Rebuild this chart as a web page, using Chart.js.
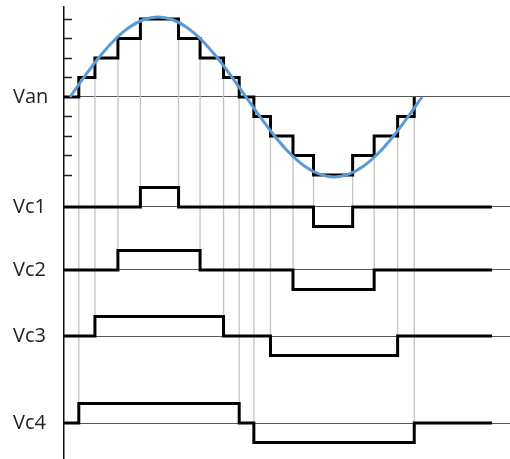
<!DOCTYPE html>
<html>
<head>
<meta charset="utf-8">
<script src="https://cdn.jsdelivr.net/npm/chart.js@4"></script>
<style>
  html, body { margin: 0; padding: 0; background: #fff; }
  canvas { display: block; }
</style>
</head>
<body>
<canvas id="c" width="510" height="459"></canvas>
<script>
// Row labels on the vertical axis
const rowLabels = ['Van', 'Vc1', 'Vc2', 'Vc3', 'Vc4'];

// Staircase level ticks on the Van row
const vanTickLevels = [4, 3, 2, 1, -1, -2, -3, -4];

// Cell switching angles (deg): rise to +1, back to 0, drop to -1, back to 0
const vc1Edges = [72, 111, 249, 289];
const vc2Edges = [49, 133, 228, 311];
const vc3Edges = [25.5, 157, 205, 335];
const vc4Edges = [9, 173, 188, 352];

// Reference sine (deg, level units)
const sineAngles = [0, 15, 30, 45, 60, 75, 90, 105, 120, 135, 150, 165, 180,
                    195, 210, 225, 240, 255, 270, 285, 300, 315, 330, 345, 360];
const sineValues = [0, 1.06, 2.05, 2.9, 3.55, 3.96, 4.1, 3.96, 3.55, 2.9, 2.05, 1.06, 0,
                    -1.06, -2.05, -2.9, -3.55, -3.96, -4.1, -3.96, -3.55, -2.9, -2.05, -1.06, 0];

// ---- layout ----
const X_MIN = -6.13, X_MAX = 449.9, TRACE_END = 431.5;
const Y_MAX = 4.615, Y_MIN = -18.564;
const rowBaselines = [0, -5.64, -8.87, -12.26, -16.72];

const cellEdges = [vc1Edges, vc2Edges, vc3Edges, vc4Edges];

// level of one cell at angle a
function cellLevel(edges, a) {
  if (a >= edges[0] && a < edges[1]) return 1;
  if (a >= edges[2] && a < edges[3]) return -1;
  return 0;
}

// stepped trace of one cell, shifted to its row
function cellTrace(edges, base) {
  const pts = [{ x: X_MIN, y: base }];
  const lv = [1, 0, -1, 0];
  edges.forEach((e, i) => {
    pts.push({ x: e, y: base + (i === 0 ? 0 : lv[i - 1]) });
    pts.push({ x: e, y: base + lv[i] });
  });
  pts.push({ x: TRACE_END, y: base });
  return pts;
}

// output staircase = sum of the cells
const allEdges = cellEdges.flat().sort((a, b) => a - b);
function stairLevel(a) {
  return cellEdges.reduce((s, e) => s + cellLevel(e, a), 0);
}
const stairPts = [{ x: X_MIN, y: 0 }];
allEdges.forEach(a => {
  stairPts.push({ x: a, y: stairLevel(a - 0.01) });
  stairPts.push({ x: a, y: stairLevel(a) });
});

// thin guide lines from each staircase step down to the cell that switches
const guidePts = [];
cellEdges.forEach((edges, k) => {
  const base = rowBaselines[k + 1];
  edges.forEach(a => {
    const before = stairLevel(a - 0.01), after = stairLevel(a);
    const top = Math.max(before, after);
    const bottom = Math.min(base + cellLevel(edges, a - 0.01), base + cellLevel(edges, a));
    guidePts.push({ x: a, y: top }, { x: a, y: bottom }, { x: a, y: null });
  });
});

const sinePts = sineAngles.map((a, i) => ({ x: a, y: sineValues[i] }));

const stepStyle = {
  borderColor: '#000', borderWidth: 3, pointRadius: 0, fill: false,
  borderJoinStyle: 'miter', borderCapStyle: 'butt', order: 2
};

const vanTicks = {
  id: 'vanTicks',
  afterDraw(chart) {
    const y = chart.scales.y, a = chart.chartArea, ctx = chart.ctx;
    ctx.save();
    ctx.strokeStyle = '#222';
    ctx.lineWidth = 1.5;
    ctx.beginPath();
    vanTickLevels.forEach(l => {
      const py = Math.round(y.getPixelForValue(l)) + 0.5;
      ctx.moveTo(a.left, py);
      ctx.lineTo(a.left + 8, py);
    });
    ctx.stroke();
    ctx.restore();
  }
};

new Chart(document.getElementById('c'), {
  type: 'line',
  data: {
    datasets: [
      { data: guidePts, borderColor: '#c4c4c4', borderWidth: 1.3, pointRadius: 0,
        spanGaps: false, fill: false, order: 10 },
      Object.assign({ data: stairPts }, stepStyle),
      ...cellEdges.map((e, k) => Object.assign({ data: cellTrace(e, rowBaselines[k + 1]) }, stepStyle)),
      { data: sinePts, borderColor: '#5b9bd5', borderWidth: 3, pointRadius: 0, fill: false,
        cubicInterpolationMode: 'monotone', order: 1 }
    ]
  },
  options: {
    responsive: false,
    devicePixelRatio: 1,
    animation: false,
    layout: { padding: { left: 13, top: 7, right: 0, bottom: 0 } },
    plugins: { legend: { display: false }, tooltip: { enabled: false } },
    scales: {
      x: { type: 'linear', min: X_MIN, max: X_MAX, display: false },
      y: {
        type: 'linear', min: Y_MIN, max: Y_MAX,
        afterBuildTicks: s => { s.ticks = rowBaselines.map(v => ({ value: v })); },
        afterFit: s => { s.width = 51; s.paddingTop = 0; s.paddingBottom = 0; },
        ticks: {
          autoSkip: false,
          callback: (v, i) => rowLabels[i],
          font: { family: 'Open Sans', size: 20 },
          color: '#222',
          crossAlign: 'far',
          padding: 0
        },
        grid: { color: '#555', lineWidth: 1, drawTicks: false },
        border: { display: true, color: '#111', width: 1.5 }
      }
    }
  },
  plugins: [vanTicks]
});
</script>
</body>
</html>
